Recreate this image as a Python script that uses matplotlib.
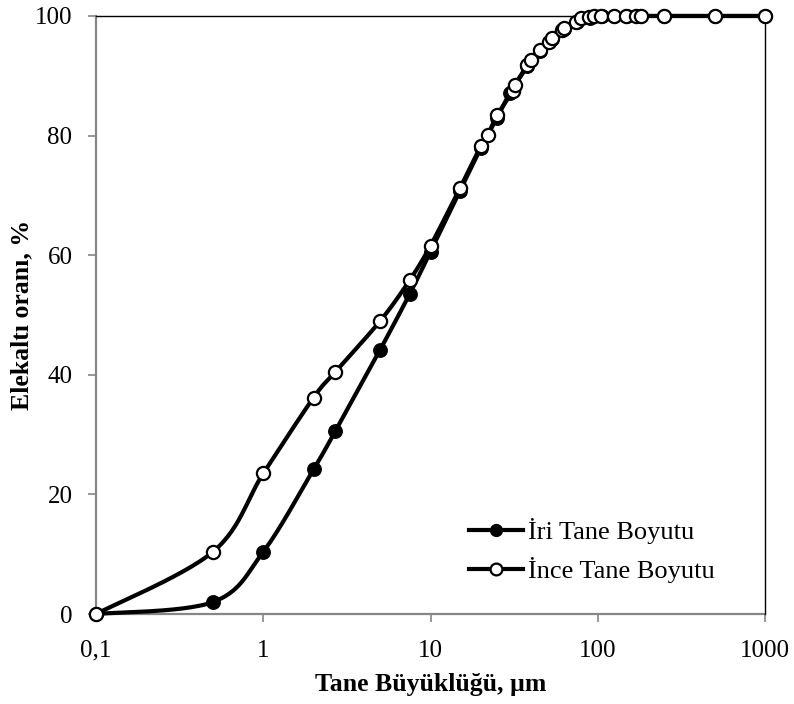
import numpy as np
import matplotlib
matplotlib.use("Agg")
import matplotlib.pyplot as plt
from matplotlib.ticker import FixedLocator, FuncFormatter, NullLocator

plt.rcParams['font.family'] = ['Liberation Serif', 'DejaVu Serif']

# Veriler
iri_x = [0.1, 0.5, 1, 2, 2.7, 5, 7.5, 10, 15, 20, 25, 30, 38, 45, 53, 63, 75, 90, 106, 125, 150, 180, 250, 500, 1000]
iri_y = [0, 2.0, 10.4, 24.2, 30.6, 44.2, 53.5, 60.6, 70.8, 77.9, 83.0, 87.2, 91.6, 94.2, 96.2, 97.9, 99.0, 99.7, 100, 100, 100, 100, 100, 100, 100]

ince_x = [0.1, 0.5, 1, 2, 2.7, 5, 7.5, 10, 15, 20, 22, 25, 31, 32, 38, 40, 45, 51, 53, 61, 63, 74, 79, 89, 95, 104, 125, 147, 169, 181, 250, 500, 1000]
ince_y = [0, 10.4, 23.5, 36.2, 40.5, 49.0, 55.8, 61.6, 71.2, 78.3, 80.1, 83.4, 87.4, 88.5, 91.8, 92.6, 94.3, 95.7, 96.3, 97.7, 98.0, 99.0, 99.6, 99.9, 100, 100, 100, 100, 100, 100, 100, 100, 100]


def smooth(xs, ys, n=30):
    # Excel benzeri yumuşatılmış çizgi (log-x uzayında Catmull-Rom)
    lx = np.log10(xs)
    px = (lx + 1) / 4.0
    py = np.array(ys) / 100.0
    pts = np.column_stack([px, py])
    out = []
    for i in range(len(pts) - 1):
        p0 = pts[i - 1] if i > 0 else pts[i]
        p1 = pts[i]
        p2 = pts[i + 1]
        p3 = pts[i + 2] if i + 2 < len(pts) else pts[i + 1]
        c1 = p1 + (p2 - p0) / 6.0
        c2 = p2 - (p3 - p1) / 6.0
        t = np.linspace(0, 1, n)[:, None]
        seg = (1 - t) ** 3 * p1 + 3 * (1 - t) ** 2 * t * c1 + 3 * (1 - t) * t ** 2 * c2 + t ** 3 * p2
        out.append(seg)
    out = np.vstack(out)
    return 10 ** (out[:, 0] * 4 - 1), out[:, 1] * 100


fig = plt.figure(figsize=(7.94, 7.04), dpi=100)
ax = fig.add_axes([0.1209, 0.1278, 0.8426, 0.8495])
ax.set_xscale('log')

LW = 3.0
sx, sy = smooth(iri_x, iri_y)
ax.plot(sx, sy, color='black', lw=LW, zorder=2, clip_on=False)
ax.plot(iri_x, iri_y, ls='none', marker='o', ms=9.5, mfc='black', mec='black', mew=1.2, zorder=3, clip_on=False)

sx, sy = smooth(ince_x, ince_y)
ax.plot(sx, sy, color='black', lw=LW, zorder=4, clip_on=False)
ax.plot(ince_x, ince_y, ls='none', marker='o', ms=9.5, mfc='white', mec='black', mew=1.6, zorder=5, clip_on=False)

# Lejant için temsili çizgiler
ax.plot([], [], color='black', lw=LW, marker='o', ms=8.5, mfc='black', mec='black', label='İri Tane Boyutu')
ax.plot([], [], color='black', lw=LW, marker='o', ms=8.5, mfc='white', mec='black', mew=1.6, label='İnce Tane Boyutu')

ax.set_xlim(0.1, 1000)
ax.set_ylim(0, 100)
ax.xaxis.set_major_locator(FixedLocator([0.1, 1, 10, 100, 1000]))
ax.xaxis.set_minor_locator(NullLocator())
ax.xaxis.set_major_formatter(FuncFormatter(lambda v, p: '0,1' if v < 0.5 else '%d' % v))
ax.set_yticks([0, 20, 40, 60, 80, 100])

for s in ['left', 'bottom']:
    ax.spines[s].set_color('#868686')
    ax.spines[s].set_linewidth(1.6)
    ax.spines[s].set_zorder(1)
for s in ['top', 'right']:
    ax.spines[s].set_color('black')
    ax.spines[s].set_linewidth(1.0)
ax.tick_params(direction='out', length=6, width=1.2, color='#868686', labelsize=18)
ax.tick_params(axis='y', pad=11)
ax.tick_params(axis='x', pad=12.5)

ax.set_xlabel('Tane Büyüklüğü, µm', fontsize=18.5, fontweight='bold', labelpad=8)
ax.set_ylabel('Elekaltı oranı, %', fontsize=18.5, fontweight='bold')
ax.yaxis.set_label_coords(-0.093, 0.5)

ax.legend(loc='center left', bbox_to_anchor=(0.557, 0.106), frameon=False, fontsize=19,
          handlelength=2.05, handletextpad=0.2, borderpad=0, borderaxespad=0, labelspacing=0.48)

plt.savefig('out.png', dpi=100)
